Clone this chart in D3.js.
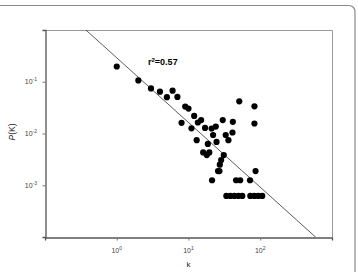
<!DOCTYPE html>
<html>
<head>
<meta charset="utf-8">
<script src="https://cdn.jsdelivr.net/npm/d3@7"></script>
<style>
  body { margin: 0; background: #fff; }
  svg { display: block; font-family: "Liberation Sans", Arial, sans-serif; }
</style>
</head>
<body>
<div id="graph"></div>
<script>
// degree k and probability P(k)
let degree = [1, 2, 3, 4, 5, 6, 7, 8, 9, 10, 11, 12, 13.5, 15, 17, 21, 24, 30, 41.5, 51, 83, 83,
  22, 33, 41, 13, 36, 24.6, 18.6, 16, 19.5, 18, 31, 28.5, 27.3, 25.8, 27, 86,
  21.3, 46, 52.5, 72, 33.7, 38.3, 43.5, 49.5, 56.2, 72.6, 82.6, 93.8, 106.6];
let prob = [0.197, 0.106, 0.0743, 0.0642, 0.0503, 0.0671, 0.0508, 0.0161, 0.0331, 0.0303, 0.0126,
  0.0219, 0.0163, 0.0182, 0.0128, 0.0125, 0.0136, 0.0182, 0.0168, 0.0418, 0.0335, 0.0156,
  0.00935, 0.00935, 0.01045, 0.00744, 0.00744, 0.00687, 0.00628, 0.00431, 0.00431, 0.00383,
  0.00383, 0.00307, 0.0025, 0.00188, 0.00188, 0.00188,
  0.00125, 0.00125, 0.00125, 0.00125, 0.000622, 0.000622, 0.000622, 0.000622, 0.000622,
  0.000622, 0.000622, 0.000622, 0.000622];
// fitted power law P = a * k^b
let fitA = 0.29;
let fitB = -1.25;
let rSquared = "0.57";
let xTicks = [1, 10, 100];
let xTickExp = ["0", "1", "2"];
let yTicks = [0.1, 0.01, 0.001];
let yTickExp = ["-1", "-2", "-3"];

let width = 358, height = 272;
let margin = {top: 30, right: 26, bottom: 35, left: 45};
let svg = d3.select("#graph").append("svg")
  .attr("width", width).attr("height", height);

// outer frame
svg.append("rect")
  .attr("x", -6).attr("y", 5.5).attr("width", 361).attr("height", 290)
  .attr("rx", 6)
  .attr("fill", "none").attr("stroke", "#8a8a8a").attr("stroke-width", 1.2);

let x = d3.scaleLog().domain([0.1, 1000]).range([margin.left, width - margin.right]);
let y = d3.scaleLog().domain([1e-4, 1]).range([height - margin.bottom, margin.top]);

// top and right box sides
svg.append("path")
  .attr("d", `M${margin.left},${margin.top + 0.5}H${width - margin.right + 0.5}V${height - margin.bottom}`)
  .attr("fill", "none").attr("stroke", "#999").attr("stroke-width", 1);

// axes
let xAxis = svg.append("g")
  .attr("transform", `translate(0,${height - margin.bottom + 0.5})`)
  .call(d3.axisBottom(x).tickValues(xTicks).tickSize(3).tickPadding(4).tickFormat(""));
let yAxis = svg.append("g")
  .attr("transform", `translate(${margin.left + 0.5},0)`)
  .call(d3.axisLeft(y).tickValues(yTicks).tickSize(3).tickPadding(4).tickFormat(""));
[xAxis, yAxis].forEach(a => {
  a.select(".domain").attr("stroke", "#555").attr("stroke-width", 1.3);
  a.selectAll(".tick line").attr("stroke", "#777");
});

// tick labels with superscript exponents
let xLab = svg.append("g").selectAll("text").data(xTicks).join("text")
  .attr("x", d => x(d)).attr("y", height - margin.bottom + 16)
  .attr("text-anchor", "middle").attr("font-size", 7).attr("fill", "#444");
xLab.append("tspan").text("10");
xLab.append("tspan").attr("dy", -3).attr("font-size", 5).text((d, i) => xTickExp[i]);

let yLab = svg.append("g").selectAll("text").data(yTicks).join("text")
  .attr("x", margin.left - 8).attr("y", d => y(d) + 2.5)
  .attr("text-anchor", "end").attr("font-size", 7).attr("fill", "#444");
yLab.append("tspan").text("10");
yLab.append("tspan").attr("dy", -3).attr("font-size", 5).text((d, i) => yTickExp[i]);

// regression line, clipped to the plot box
svg.append("clipPath").attr("id", "clip").append("rect")
  .attr("x", margin.left).attr("y", margin.top)
  .attr("width", width - margin.left - margin.right)
  .attr("height", height - margin.top - margin.bottom);
let fitK = [0.1, 1000];
svg.append("path")
  .attr("clip-path", "url(#clip)")
  .attr("d", d3.line().x(d => x(d)).y(d => y(fitA * Math.pow(d, fitB)))(fitK))
  .attr("fill", "none").attr("stroke", "#333").attr("stroke-width", 0.8);

// points
svg.append("g").selectAll("circle").data(degree).join("circle")
  .attr("cx", d => x(d)).attr("cy", (d, i) => y(prob[i]))
  .attr("r", 3.1).attr("fill", "#000");

// r squared
let rt = svg.append("text").attr("x", 148).attr("y", 65)
  .attr("font-size", 9).attr("font-weight", "bold");
rt.append("tspan").text("r");
rt.append("tspan").attr("dy", -3.5).attr("font-size", 6).text("2");
rt.append("tspan").attr("dy", 3.5).text("=" + rSquared);

// axis titles
svg.append("text").attr("x", (x(1) + x(100)) / 2).attr("y", 267)
  .attr("text-anchor", "middle").attr("font-size", 8).attr("fill", "#222").text("k");
let yt = svg.append("text").attr("transform", "translate(15,132) rotate(-90)")
  .attr("text-anchor", "middle").attr("font-size", 8.5).attr("fill", "#222");
yt.append("tspan").attr("font-style", "italic").text("P");
yt.append("tspan").text("(K)");
</script>
</body>
</html>
